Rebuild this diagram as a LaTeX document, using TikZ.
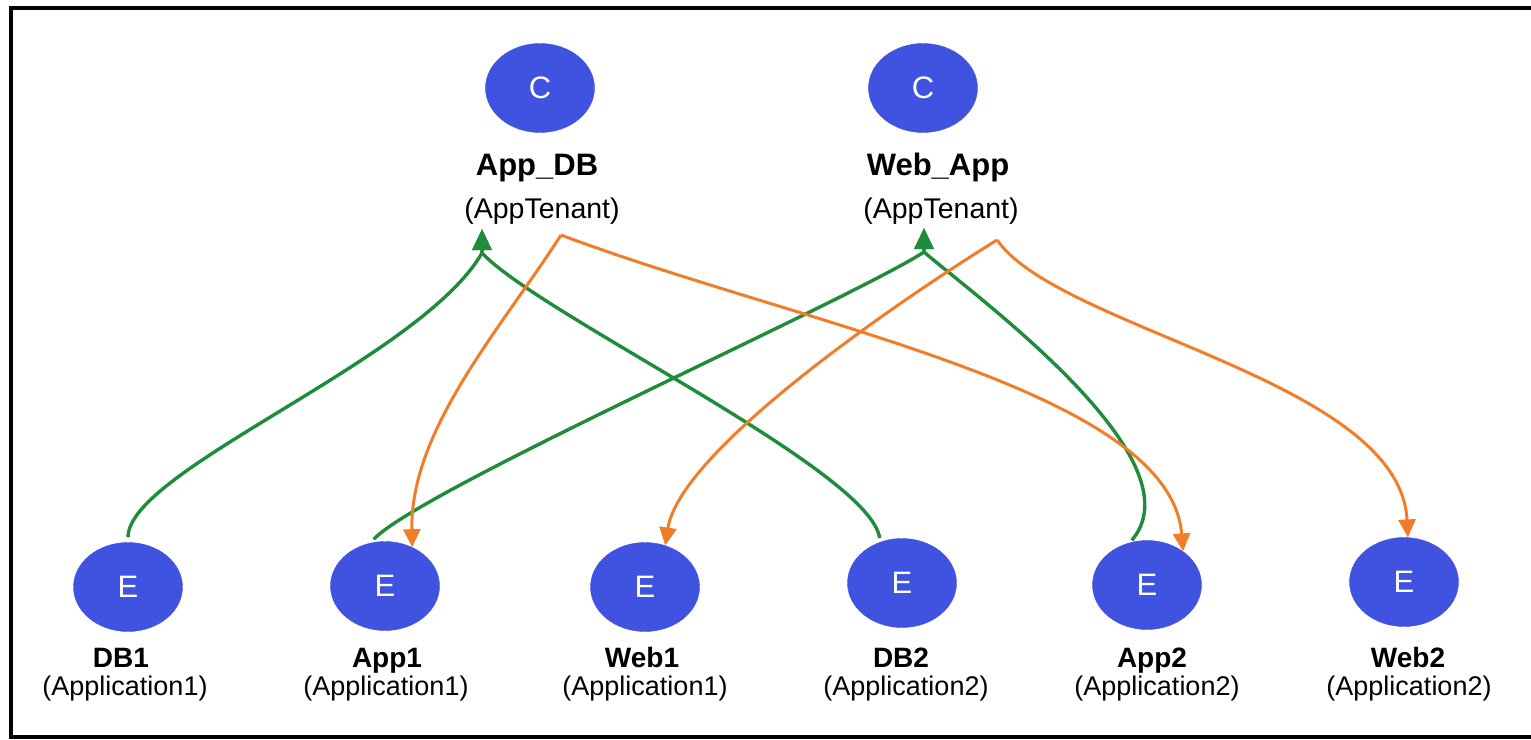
\documentclass[tikz,border=0pt]{standalone}
\usepackage{fontspec}
\setmainfont{Liberation Sans}
\usetikzlibrary{arrows.meta,shapes.geometric}
\definecolor{nodeblue}{RGB}{64,82,224}
\definecolor{edgegreen}{RGB}{30,140,56}
\definecolor{edgeorange}{RGB}{242,125,40}
\tikzset{
  ent/.style={ellipse,fill=nodeblue,draw=nodeblue,minimum width=109pt,minimum height=89pt,inner sep=0pt,
    text=white,font=\fontsize{31}{31}\selectfont},
  toplbl/.style={anchor=base,font=\fontsize{31}{31}\selectfont\bfseries},
  topsub/.style={anchor=base,font=\fontsize{28.5}{28.5}\selectfont},
  botlbl/.style={anchor=base,font=\fontsize{28}{28}\selectfont\bfseries},
  botsub/.style={anchor=base,font=\fontsize{27}{27}\selectfont},
  gline/.style={draw=edgegreen,line width=3.4pt},
  oline/.style={draw=edgeorange,line width=3pt,-{Triangle[length=18pt,width=17pt]}},
  garrow/.style={-{Triangle[length=21pt,width=19pt]}},
  garrowstart/.style={{Triangle[length=21pt,width=19pt]}-},
}
\begin{document}
\begin{tikzpicture}[x=1pt,y=-1pt]
\useasboundingbox (0,0) rectangle (1531,739);
\draw[line width=4pt] (1540,7.5) -- (10.5,7.5) -- (10.5,737) -- (1540,737);

% tenant nodes
\node[ent] (adb) at (540,88) {C};
\node[ent] (wap) at (923,88) {C};
\node[toplbl] (adbl) at (537,175) {App\_DB};
\node[topsub] (adbs) at (542,218) {(AppTenant)};
\node[toplbl] (wapl) at (938,175) {Web\_App};
\node[topsub] (waps) at (941,218) {(AppTenant)};

% application nodes
\node[ent] (db1)  at (128,587) {E};
\node[ent] (app1) at (385,586) {E};
\node[ent] (web1) at (645,587) {E};
\node[ent] (db2)  at (902,583) {E};
\node[ent] (app2) at (1147,585) {E};
\node[ent] (web2) at (1404,582) {E};

\node[botlbl] (db1l)  at (121,667) {DB1};
\node[botsub] (db1s)  at (125,695) {(Application1)};
\node[botlbl] (app1l) at (387,667) {App1};
\node[botsub] (app1s) at (386,695) {(Application1)};
\node[botlbl] (web1l) at (642,667) {Web1};
\node[botsub] (web1s) at (645,695) {(Application1)};
\node[botlbl] (db2l)  at (901,667) {DB2};
\node[botsub] (db2s)  at (906,695) {(Application2)};
\node[botlbl] (app2l) at (1152,667) {App2};
\node[botsub] (app2s) at (1157,695) {(Application2)};
\node[botlbl] (web2l) at (1408,667) {Web2};
\node[botsub] (web2s) at (1409,695) {(Application2)};

% ports
\coordinate (adbG)  at (482,229);
\coordinate (adbGb) at (482,253);
\coordinate (wapG)  at (924,228);
\coordinate (wapGb) at (924,252);
\coordinate (adbO)  at (561,235);
\coordinate (wapO)  at (997,240);

% green connectors
\draw[gline,garrow,shorten <=5pt] (db1.north) .. controls (128,470) and (420,360) .. (adbGb) -- (adbG);
\draw[gline,garrowstart,shorten >=4pt] (adbG) -- (adbGb) .. controls (540,315) and (870,470) .. (db2.118);
\draw[gline,garrow,shorten <=5pt] (app1.109) .. controls (420,490) and (850,300) .. (wapGb) -- (wapG);
\draw[gline,garrowstart,shorten >=3pt] (wapG) -- (wapGb) .. controls (980,300) and (1200,460) .. (app2.112);

% orange connectors
\draw[oline] (adbO) .. controls (500,330) and (410,430) .. (app1.55);
\draw[oline] (adbO) .. controls (800,325) and (1170,390) .. (app2.43);
\draw[oline] (wapO) .. controls (900,300) and (680,450) .. (web1.64);
\draw[oline] (wapO) .. controls (1060,330) and (1400,380) .. (web2.85);
\end{tikzpicture}
\end{document}
